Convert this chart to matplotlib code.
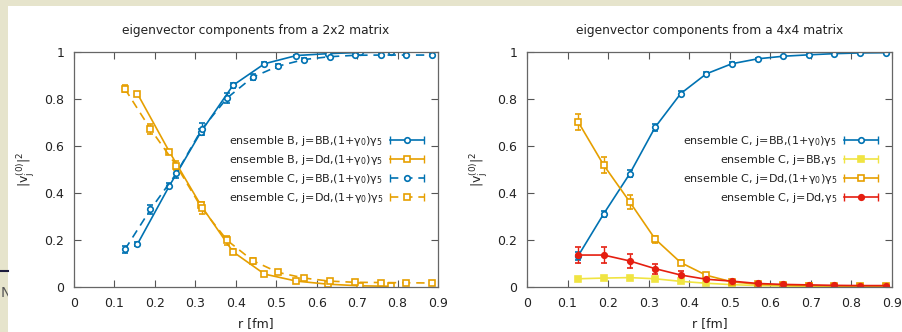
import matplotlib
matplotlib.use("Agg")
import matplotlib.pyplot as plt
from matplotlib.lines import Line2D
from matplotlib.patches import Rectangle
from matplotlib.legend_handler import HandlerLine2D, HandlerTuple

plt.rcParams['font.family'] = ['DejaVu Sans']
plt.rcParams['mathtext.default'] = 'regular'

# r values [fm] of the two ensembles
r_B = [0.157, 0.236, 0.314, 0.393, 0.471, 0.550, 0.628, 0.707, 0.785]
r_C = [0.126, 0.189, 0.253, 0.316, 0.379, 0.442, 0.505, 0.569, 0.632, 0.695, 0.758, 0.821, 0.884]

# 2x2 matrix
B_BB = [0.183, 0.431, 0.660, 0.858, 0.950, 0.985, 0.993, 0.998, 1.000]
B_BB_err = [0.008, 0.010, 0.012, 0.010, 0.006, 0.004, 0.003, 0.002, 0.002]
B_Dd = [0.822, 0.575, 0.347, 0.150, 0.055, 0.025, 0.012, 0.005, 0.003]
B_Dd_err = [0.008, 0.010, 0.012, 0.010, 0.006, 0.004, 0.003, 0.002, 0.002]
C2_BB = [0.160, 0.330, 0.483, 0.672, 0.805, 0.893, 0.940, 0.968, 0.980, 0.986, 0.987, 0.987, 0.987]
C2_BB_err = [0.015, 0.020, 0.020, 0.025, 0.020, 0.012, 0.008, 0.006, 0.005, 0.004, 0.004, 0.004, 0.004]
C2_Dd = [0.843, 0.672, 0.517, 0.335, 0.198, 0.112, 0.062, 0.038, 0.025, 0.020, 0.019, 0.018, 0.017]
C2_Dd_err = [0.015, 0.020, 0.020, 0.025, 0.020, 0.012, 0.008, 0.006, 0.005, 0.004, 0.004, 0.004, 0.004]

# 4x4 matrix
C4_BB = [0.132, 0.311, 0.481, 0.680, 0.823, 0.907, 0.950, 0.971, 0.982, 0.988, 0.993, 0.996, 0.997]
C4_BB_err = [0.015, 0.012, 0.015, 0.015, 0.012, 0.008, 0.006, 0.004, 0.003, 0.003, 0.002, 0.002, 0.002]
C4_BB_g5 = [0.035, 0.038, 0.040, 0.035, 0.024, 0.016, 0.010, 0.006, 0.004, 0.003, 0.002, 0.002, 0.002]
C4_BB_g5_err = [0.005, 0.005, 0.005, 0.004, 0.004, 0.003, 0.002, 0.002, 0.002, 0.001, 0.001, 0.001, 0.001]
C4_Dd = [0.703, 0.519, 0.363, 0.204, 0.104, 0.050, 0.022, 0.012, 0.008, 0.006, 0.004, 0.003, 0.003]
C4_Dd_err = [0.035, 0.033, 0.030, 0.015, 0.010, 0.008, 0.005, 0.003, 0.003, 0.002, 0.002, 0.002, 0.002]
C4_Dd_g5 = [0.136, 0.136, 0.111, 0.078, 0.051, 0.033, 0.025, 0.015, 0.011, 0.009, 0.007, 0.006, 0.006]
C4_Dd_g5_err = [0.035, 0.035, 0.030, 0.022, 0.015, 0.010, 0.006, 0.004, 0.003, 0.003, 0.003, 0.002, 0.002]

BLUE = '#0072b2'
ORANGE = '#e69f00'
YELLOW = '#f0e442'
RED = '#e51e10'
DASH = (0, (5, 3.5))


class CapLine(Line2D):
    pass


def series(ax, x, y, err, color, marker, filled, ls='-'):
    ax.errorbar(x, y, yerr=err, color=color, ls=ls, lw=1.2, marker=marker, ms=4.0,
                mfc=color if filled else 'white', mec=color, mew=1.2,
                elinewidth=1.0, capsize=2.5, capthick=1.0)
    main = Line2D([], [], color=color, ls=ls, lw=1.2, marker=marker, ms=4.0,
                  mfc=color if filled else 'white', mec=color, mew=1.2)
    caps = CapLine([], [], color=color, ls='none', marker='|', ms=6, mew=1.0)
    return (main, caps)


def style(ax, title):
    ax.set_xlim(0, 0.9)
    ax.set_ylim(0, 1)
    ax.set_xticks([0, 0.1, 0.2, 0.3, 0.4, 0.5, 0.6, 0.7, 0.8, 0.9])
    ax.set_xticklabels(['0', '0.1', '0.2', '0.3', '0.4', '0.5', '0.6', '0.7', '0.8', '0.9'])
    ax.set_yticks([0, 0.2, 0.4, 0.6, 0.8, 1])
    ax.set_yticklabels(['0', '0.2', '0.4', '0.6', '0.8', '1'])
    ax.tick_params(direction='in', top=True, right=True, length=5, width=0.8,
                   color='#555555', labelsize=9, labelcolor='#222222', pad=7)
    for s in ax.spines.values():
        s.set_color('#666666')
        s.set_linewidth(0.9)
    ax.set_title(title, fontsize=8.8, color='#222222', pad=13)
    ax.set_xlabel('r [fm]', fontsize=9, color='#222222', labelpad=5)
    ax.set_ylabel(r'$|v_j^{(0)}|^2$', fontsize=9, color='#222222', labelpad=5)


def legend(ax, handles, labels):
    hm = {tuple: HandlerTuple(ndivide=1, pad=0),
          CapLine: HandlerLine2D(numpoints=2, marker_pad=0)}
    leg = ax.legend(handles, labels, handler_map=hm, loc='center right',
                    bbox_to_anchor=(0.962, 0.5), markerfirst=False, frameon=False,
                    fontsize=8.0, handlelength=3.1, handletextpad=0.6,
                    labelspacing=0.47, borderpad=0, borderaxespad=0)
    for t in leg.get_texts():
        t.set_color('#222222')


fig = plt.figure(figsize=(9.03, 3.32), dpi=100)
fig.patch.set_facecolor('#e6e4cc')
fig.text(1 / 903, 1 - 297 / 332, 'N', fontsize=10, color='#555555', zorder=-3)
fig.add_artist(Rectangle((8 / 903, 0), 1, 1 - 6 / 332, transform=fig.transFigure,
                         facecolor='white', edgecolor='none', zorder=-2))
fig.add_artist(Line2D([0, 8 / 903], [1 - 271 / 332] * 2, transform=fig.transFigure,
                      color='#1c1c3c', lw=1.5, zorder=-1))

ax1 = fig.add_axes([74 / 903, 45 / 332, 364 / 903, 235 / 332])
ax2 = fig.add_axes([527 / 903, 45 / 332, 365 / 903, 235 / 332])

h1 = series(ax1, r_B, B_BB, B_BB_err, BLUE, 'o', False)
h2 = series(ax1, r_B, B_Dd, B_Dd_err, ORANGE, 's', False)
h3 = series(ax1, r_C, C2_BB, C2_BB_err, BLUE, 'o', False, DASH)
h4 = series(ax1, r_C, C2_Dd, C2_Dd_err, ORANGE, 's', False, DASH)
style(ax1, 'eigenvector components from a 2x2 matrix')
legend(ax1, [h1, h2, h3, h4],
       ['ensemble B, j=BB,(1+γ$_0$)γ$_5$', 'ensemble B, j=Dd,(1+γ$_0$)γ$_5$',
        'ensemble C, j=BB,(1+γ$_0$)γ$_5$', 'ensemble C, j=Dd,(1+γ$_0$)γ$_5$'])

g1 = series(ax2, r_C, C4_BB, C4_BB_err, BLUE, 'o', False)
g2 = series(ax2, r_C, C4_BB_g5, C4_BB_g5_err, YELLOW, 's', True)
g3 = series(ax2, r_C, C4_Dd, C4_Dd_err, ORANGE, 's', False)
g4 = series(ax2, r_C, C4_Dd_g5, C4_Dd_g5_err, RED, 'o', True)
style(ax2, 'eigenvector components from a 4x4 matrix')
legend(ax2, [g1, g2, g3, g4],
       ['ensemble C, j=BB,(1+γ$_0$)γ$_5$', 'ensemble C, j=BB,γ$_5$',
        'ensemble C, j=Dd,(1+γ$_0$)γ$_5$', 'ensemble C, j=Dd,γ$_5$'])

fig.savefig('out.png', dpi=100, facecolor=fig.get_facecolor())
